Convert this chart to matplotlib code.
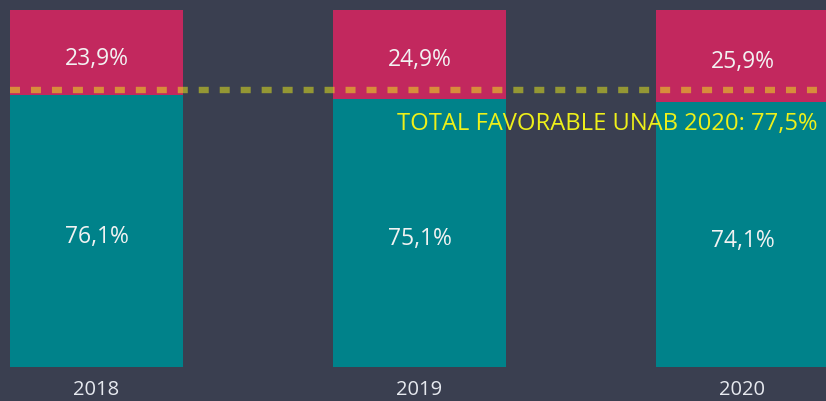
import numpy as np
import matplotlib
matplotlib.use("Agg")
import matplotlib.pyplot as plt
from matplotlib import transforms

# datos
anios = ["2018", "2019", "2020"]
favorable = [76.1, 75.1, 74.1]
desfavorable = [23.9, 24.9, 25.9]
total_unab = 77.5
texto_total = "TOTAL FAVORABLE UNAB 2020: 77,5%"

FONDO = "#3a3f50"
TEAL = "#00828a"
CARMIN = "#c2285e"
AMARILLO = "#eef01a"

plt.rcParams['font.family'] = ['Open Sans', 'DejaVu Sans']
plt.rcParams['lines.scale_dashes'] = False

fig = plt.figure(figsize=(8.26, 4.01), dpi=100, facecolor=FONDO)
ax = fig.add_axes([0, 34 / 401, 1, 357 / 401])
ax.set_facecolor(FONDO)

x = np.arange(len(anios))
ancho = 173 / 323
ax.bar(x, favorable, width=ancho, color=TEAL)
ax.bar(x, desfavorable, width=ancho, bottom=favorable, color=CARMIN)

# etiquetas un poco mas abajo (como en el original)
bajar = transforms.offset_copy(ax.transData, fig=fig, y=-6, units="dots")
for i in range(len(anios)):
    ax.text(x[i], favorable[i] / 2, f"{favorable[i]:.1f}%".replace(".", ","),
            ha="center", va="center", color="#f2f2f2", fontsize=16.5,
            transform=bajar)
    ax.text(x[i], favorable[i] + desfavorable[i] / 2,
            f"{desfavorable[i]:.1f}%".replace(".", ","),
            ha="center", va="center", color="#f2f2f2", fontsize=16.5,
            transform=bajar)

# linea total favorable
ax.axhline(total_unab, color=AMARILLO, alpha=0.5, lw=4.6,
           linestyle=(7.9, (7.2, 7.9)), dash_capstyle="butt")
mezcla = transforms.blended_transform_factory(ax.transAxes, ax.transData)
ax.text(0.99, 68.0, texto_total, transform=mezcla,
        ha="right", va="center", color=AMARILLO, fontsize=17.1)

ax.set_xlim(-96.5 / 323, (826 - 96.5) / 323)
ax.set_ylim(0, 100)
ax.set_xticks(x)
ax.set_xticklabels(anios, color="#e6e9ef", fontsize=14.5)
ax.tick_params(axis="x", length=0, pad=9.5)
ax.set_yticks([])
for s in ax.spines.values():
    s.set_visible(False)

fig.savefig("out.png", dpi=100, facecolor=FONDO)
